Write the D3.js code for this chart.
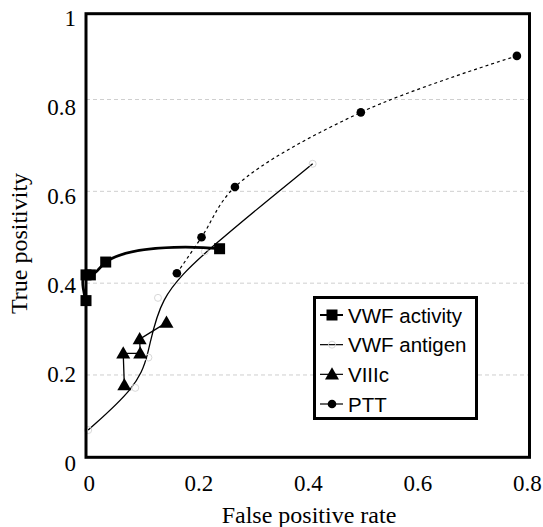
<html>
<head>
<script src="https://d3js.org/d3.v7.min.js"></script>
<style>
  body { margin: 0; background: white; }
</style>
</head>
<body>
<svg width="543" height="527"></svg>
<script>
// values
const xTicks = [0, 0.2, 0.4, 0.6, 0.8];
const yTicks = [0, 0.2, 0.4, 0.6, 0.8, 1];
const gridValues = [0.2, 0.4, 0.6, 0.8];

const vwfActivityX = [0, 0, 0.008, 0.036, 0.244];
const vwfActivityY = [0.362, 0.418, 0.418, 0.446, 0.475];

const vwfAntigenX = [0.004, 0.090, 0.114, 0.1315, 0.217, 0.414];
const vwfAntigenY = [0.080, 0.172, 0.238, 0.368, 0.469, 0.660];

const viiicX = [0.070, 0.068, 0.099, 0.098, 0.147];
const viiicY = [0.178, 0.247, 0.247, 0.278, 0.314];

const pttX = [0.166, 0.211, 0.272, 0.502, 0.787];
const pttY = [0.4215, 0.50, 0.6095, 0.772, 0.895];

const legendNames = ["VWF activity", "VWF antigen", "VIIIc", "PTT"];

const serif = "'Liberation Serif', 'Times New Roman', Times, serif";
const sans = "'Liberation Sans', Arial, Helvetica, sans-serif";

const svg = d3.select("svg");

var x = d3.scaleLinear().domain([0, 0.8]).range([86, 524]);
var y = d3.scaleLinear().domain([0, 1]).range([466.8, 7.7]);
// the tick labels sit on a slightly different spacing than the grid
var yLab = d3.scaleLinear().domain([0, 1]).range([463, 18]);

// frame box
const frame = {left: 86, right: 529.5, top: 13.7, bottom: 457.3};

// grid lines
svg.append("g").selectAll("line").data(gridValues).enter().append("line")
  .attr("x1", frame.left).attr("x2", frame.right)
  .attr("y1", d => y(d)).attr("y2", d => y(d))
  .attr("stroke", "#cfcfcf").attr("stroke-width", 1)
  .attr("stroke-dasharray", "4,3");

// tick labels
svg.append("g").selectAll("text").data(xTicks).enter().append("text")
  .attr("font-family", serif).attr("font-size", 23)
  .attr("x", d => x(d) + 3.3)
  .attr("y", 483)
  .attr("text-anchor", "middle")
  .attr("dominant-baseline", "central")
  .text(d => d3.format("~g")(d));

svg.append("g").selectAll("text").data(yTicks).enter().append("text")
  .attr("font-family", serif).attr("font-size", 23)
  .attr("x", 76)
  .attr("y", d => yLab(d))
  .attr("text-anchor", "end")
  .attr("dominant-baseline", "central")
  .text(d => d3.format("~g")(d));

// axis titles
svg.append("text")
  .attr("font-family", serif).attr("font-size", 24)
  .attr("x", 309).attr("y", 515)
  .attr("text-anchor", "middle").attr("dominant-baseline", "central")
  .text("False positive rate");

svg.append("text")
  .attr("font-family", serif).attr("font-size", 24)
  .attr("transform", "translate(19,243.5) rotate(-90)")
  .attr("text-anchor", "middle").attr("dominant-baseline", "central")
  .text("True positivity");

function pts(xs, ys) { return xs.map((v, i) => [v, ys[i]]); }

const line = d3.line().x(d => x(d[0])).y(d => y(d[1]));

const plot = svg.append("g");

// VWF antigen (smoothed fit, does not pass exactly through the points)
const antigen = pts(vwfAntigenX, vwfAntigenY);
plot.append("path").datum(antigen)
  .attr("d", line.curve(d3.curveBasis))
  .attr("fill", "none").attr("stroke", "#000").attr("stroke-width", 1.3);
plot.append("g").selectAll("circle").data(antigen).enter().append("circle")
  .attr("cx", d => x(d[0])).attr("cy", d => y(d[1])).attr("r", 3.5)
  .attr("fill", "none").attr("stroke", "#d8d8d8").attr("stroke-width", 1);

// PTT
const ptt = pts(pttX, pttY);
plot.append("path").datum(ptt)
  .attr("d", line.curve(d3.curveCatmullRom.alpha(0.5)))
  .attr("fill", "none").attr("stroke", "#000").attr("stroke-width", 1.2)
  .attr("stroke-dasharray", "3,3");
plot.append("g").selectAll("circle").data(ptt).enter().append("circle")
  .attr("cx", d => x(d[0])).attr("cy", d => y(d[1])).attr("r", 4.3)
  .attr("fill", "#000");

// VIIIc
const viiic = pts(viiicX, viiicY);
plot.append("path").datum(viiic)
  .attr("d", line.curve(d3.curveLinear))
  .attr("fill", "none").attr("stroke", "#000").attr("stroke-width", 1.3);
plot.append("g").selectAll("path").data(viiic).enter().append("path")
  .attr("d", d3.symbol().type(d3.symbolTriangle).size(85))
  .attr("transform", d => "translate(" + x(d[0]) + "," + (y(d[1]) + 1) + ")")
  .attr("fill", "#000");

// VWF activity
const activity = pts(vwfActivityX, vwfActivityY);
plot.append("path").datum(activity)
  .attr("d", line.curve(d3.curveCatmullRom.alpha(1)))
  .attr("fill", "none").attr("stroke", "#000").attr("stroke-width", 2.8);
plot.append("g").selectAll("rect").data(activity).enter().append("rect")
  .attr("x", d => x(d[0]) - 5.5).attr("y", d => y(d[1]) - 5.5)
  .attr("width", 11).attr("height", 11)
  .attr("fill", "#000");

// frame
svg.append("rect")
  .attr("x", frame.left).attr("y", frame.top)
  .attr("width", frame.right - frame.left).attr("height", frame.bottom - frame.top)
  .attr("fill", "none").attr("stroke", "#000").attr("stroke-width", 3);

// legend
const legend = svg.append("g");
legend.append("rect")
  .attr("x", 314.5).attr("y", 297.5).attr("width", 162).attr("height", 121)
  .attr("fill", "#fff").attr("stroke", "#000").attr("stroke-width", 3);

const rowY = d3.scalePoint().domain(legendNames).range([315, 404]);

legendNames.forEach(function(name, i) {
  const cy = rowY(name);
  legend.append("line")
    .attr("x1", 320).attr("x2", 343).attr("y1", cy).attr("y2", cy)
    .attr("stroke", "#000").attr("stroke-width", i == 0 ? 2 : 1.2);
  if (i == 0) {
    legend.append("rect").attr("x", 326.5).attr("y", cy - 5.5)
      .attr("width", 11).attr("height", 11).attr("fill", "#000");
  } else if (i == 1) {
    legend.append("circle").attr("cx", 332).attr("cy", cy).attr("r", 3.5)
      .attr("fill", "none").attr("stroke", "#d8d8d8");
  } else if (i == 2) {
    legend.append("path")
      .attr("d", d3.symbol().type(d3.symbolTriangle).size(85))
      .attr("transform", "translate(332," + (cy + 1) + ")").attr("fill", "#000");
  } else {
    legend.append("circle").attr("cx", 332).attr("cy", cy).attr("r", 4.3)
      .attr("fill", "#000");
  }
  legend.append("text")
    .attr("font-family", sans).attr("font-size", 20.5)
    .attr("x", 348).attr("y", cy)
    .attr("dominant-baseline", "central")
    .text(name);
});
</script>
</body>
</html>
